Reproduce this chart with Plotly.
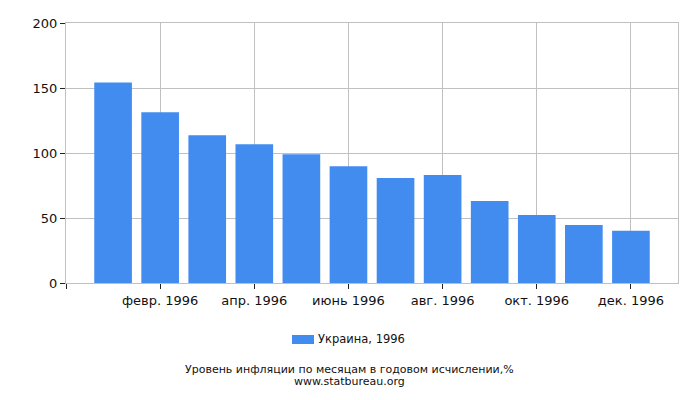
import plotly.graph_objects as go

months = ["янв. 1996", "февр. 1996", "март 1996", "апр. 1996", "май 1996", "июнь 1996",
          "июль 1996", "авг. 1996", "сент. 1996", "окт. 1996", "нояб. 1996", "дек. 1996"]
inflation = [154.3, 131.3, 113.6, 106.7, 99.1, 89.9, 80.7, 83.0, 63.1, 52.3, 44.7, 40.1]
tick_pos = [-1, 1, 3, 5, 7, 9, 11]
tick_text = ["", "февр. 1996", "апр. 1996", "июнь 1996", "авг. 1996", "окт. 1996", "дек. 1996"]
y_ticks = [0, 50, 100, 150, 200]
series_name = "Украина, 1996"
bar_colour = "#428CF0"

fig = go.Figure()
fig.add_trace(go.Bar(
    x=list(range(len(months))), y=inflation, width=0.8,
    name=series_name, marker=dict(color=bar_colour, line=dict(width=0)),
    text=months, hoverinfo="text+y", textposition="none", showlegend=False,
))

# legend key drawn by hand, the original uses a wide rectangle
fig.add_shape(type="rect", xref="paper", yref="paper",
              x0=0.3693, x1=0.4052, y0=-0.2, y1=-0.2346,
              fillcolor=bar_colour, line=dict(width=0))

fig.update_layout(
    width=700, height=400,
    margin=dict(l=66, r=22, t=23, b=117),
    paper_bgcolor="white", plot_bgcolor="white",
    font=dict(family="DejaVu Sans", size=13, color="#111111"),
    xaxis=dict(range=[-1, 12], tickvals=tick_pos, ticktext=tick_text,
               showgrid=True, gridcolor="#C0C0C0", ticks="outside", ticklen=5,
               tickcolor="#222222", showline=True, linecolor="#C0C0C0", mirror=True,
               zeroline=False),
    yaxis=dict(range=[0, 200], tickvals=y_ticks, showgrid=True, gridcolor="#C0C0C0",
               ticks="outside", ticklen=5, tickcolor="#222222", showline=True,
               linecolor="#C0C0C0", mirror=True, zeroline=False),
    annotations=[
        dict(text=series_name, x=0.4085, xref="paper", xanchor="left",
             y=-0.2173, yref="paper", yanchor="middle", showarrow=False,
             font=dict(size=11.5)),
        dict(text="Уровень инфляции по месяцам в годовом исчислении,%",
             x=0.464, xref="paper", y=-0.334, yref="paper", yanchor="middle",
             showarrow=False, font=dict(size=11)),
        dict(text="www.statbureau.org",
             x=0.464, xref="paper", y=-0.38, yref="paper", yanchor="middle",
             showarrow=False, font=dict(size=11)),
    ],
)

fig.write_html("out.html", config={"displayModeBar": False},
               post_script="document.body.style.margin='0';")
